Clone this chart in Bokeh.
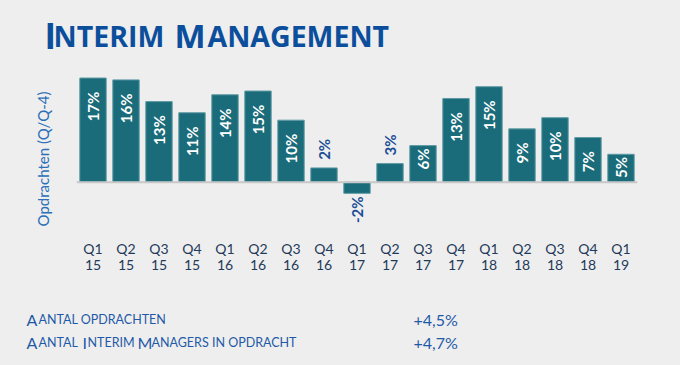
import math
from bokeh.plotting import figure
from bokeh.layouts import column
from bokeh.models import Range1d, FixedTicker, Span, LinearAxis
from bokeh.core.properties import value
from bokeh.embed import file_html
from bokeh.resources import INLINE

# ---- data ----
quarters = ["Q1 15", "Q2 15", "Q3 15", "Q4 15", "Q1 16", "Q2 16", "Q3 16", "Q4 16",
            "Q1 17", "Q2 17", "Q3 17", "Q4 17", "Q1 18", "Q2 18", "Q3 18", "Q4 18", "Q1 19"]
quarter_labels = ["Q1", "Q2", "Q3", "Q4", "Q1", "Q2", "Q3", "Q4",
                  "Q1", "Q2", "Q3", "Q4", "Q1", "Q2", "Q3", "Q4", "Q1"]
year_labels = ["15", "15", "15", "15", "16", "16", "16", "16",
               "17", "17", "17", "17", "18", "18", "18", "18", "19"]
growth = [16.8, 16.5, 13.0, 11.2, 14.1, 14.7, 10.0, 2.3, -1.8, 3.0, 5.9, 13.5, 15.4, 8.6, 10.4, 7.2, 4.5]
growth_labels = ["17%", "16%", "13%", "11%", "14%", "15%", "10%", "2%", "-2%", "3%", "6%",
                 "13%", "15%", "9%", "10%", "7%", "5%"]
summary_values = ["+4,5%", "+4,7%"]

BG = "#eeeeee"
BAR = "#1b6c7a"
DARKBLUE = "#1a4d96"
TEXTBLUE = "#1f5aa8"
TITLE = "#0b4f9c"
W = 680


def text_fig(h):
    f = figure(width=W, height=h, x_range=Range1d(0, W), y_range=Range1d(h, 0),
               output_backend="svg", toolbar_location=None, frame_align=False,
               min_border=0, min_border_left=0, min_border_right=0,
               min_border_top=0, min_border_bottom=0)
    f.axis.visible = False
    f.grid.visible = False
    f.outline_line_color = None
    f.background_fill_color = BG
    f.border_fill_color = BG
    return f


def put(f, txt, x, y, size, color, style="normal", font="Lato"):
    f.text(x=[x], y=[y], text=[txt], text_font=value(font), text_font_size=size,
           text_font_style=style, text_color=color, text_baseline="alphabetic",
           text_align="left")


# ---- title (small caps) ----
top = text_fig(62)
put(top, "I", 44, 35, "35px", TITLE, "bold", "Open Sans")
put(top, "NTERIM", 53, 35, "28.5px", TITLE, "bold", "Open Sans")
put(top, "M", 174, 35, "33px", TITLE, "bold", "Open Sans")
put(top, "ANAGEMENT", 207, 35, "28.5px", TITLE, "bold", "Open Sans")

# ---- chart ----
n = len(quarters)
xpos = [i + 0.5 for i in range(n)]

p = figure(width=W, height=230, x_range=Range1d(0, n), y_range=Range1d(-10.21, 17.69),
           output_backend="svg", toolbar_location=None, frame_align=False,
           min_border_left=76, min_border_right=43, min_border_top=10, min_border_bottom=47)
p.background_fill_color = BG
p.border_fill_color = BG
p.outline_line_color = None
p.grid.visible = False

p.vbar(x=xpos, top=growth, width=0.8, fill_color=BAR, line_color="#5f9ba5", line_width=1)
p.add_layout(Span(location=0, dimension="width", line_color="#c8c8c8", line_width=2))

xs_in, ys_in, t_in = [], [], []
xs_up, ys_up, t_up = [], [], []
xs_dn, ys_dn, t_dn = [], [], []
for x, v, t in zip(xpos, growth, growth_labels):
    if v >= 7:
        xs_in.append(x); ys_in.append(v - 2.2); t_in.append(t)
    elif v >= 4:
        xs_in.append(x); ys_in.append(v - 0.45); t_in.append(t)
    elif v >= 0:
        xs_up.append(x); ys_up.append(v + 1.3); t_up.append(t)
    else:
        xs_dn.append(x); ys_dn.append(v - 0.5); t_dn.append(t)

common = dict(angle=math.pi / 2, text_font=value("Lato"), text_font_size="15px",
              text_font_style="bold", text_baseline="middle")
p.text(x=xs_in, y=ys_in, text=t_in, text_color="white", text_align="right", **common)
p.text(x=xs_up, y=ys_up, text=t_up, text_color=DARKBLUE, text_align="left", **common)
p.text(x=xs_dn, y=ys_dn, text=t_dn, text_color=DARKBLUE, text_align="right", **common)


def style_xaxis(ax, labels, standoff):
    ax.ticker = FixedTicker(ticks=xpos, minor_ticks=[])
    ax.major_label_overrides = {x: lab for x, lab in zip(xpos, labels)}
    ax.axis_line_color = None
    ax.major_tick_line_color = None
    ax.minor_tick_line_color = None
    ax.major_tick_out = 0
    ax.major_tick_in = 0
    ax.minor_tick_out = 0
    ax.major_label_text_font = "Lato"
    ax.major_label_text_font_size = "14px"
    ax.major_label_text_color = "#1f3a5a"
    ax.major_label_standoff = standoff


style_xaxis(p.xaxis[0], quarter_labels, -6)
year_axis = LinearAxis()
p.add_layout(year_axis, "below")
style_xaxis(year_axis, year_labels, 0)

ya = p.yaxis[0]
ya.ticker = FixedTicker(ticks=[], minor_ticks=[])
ya.axis_line_color = None
ya.major_tick_line_color = None
ya.minor_tick_line_color = None
ya.major_tick_out = 0
ya.minor_tick_out = 0
ya.axis_label = "Opdrachten (Q/Q-4)"
ya.axis_label_text_font = "Lato"
ya.axis_label_text_font_style = "normal"
ya.axis_label_text_font_size = "15px"
ya.axis_label_text_color = "#2a6fb8"
ya.axis_label_standoff = 25

# ---- bottom summary (small caps) ----
bot = text_fig(73)
r1, r2 = 27, 49.7
put(bot, "A", 26, r1, "16px", TEXTBLUE)
put(bot, "ANTAL OPDRACHTEN", 38, r1, "12.5px", TEXTBLUE)
put(bot, "A", 26, r2, "16px", TEXTBLUE)
put(bot, "ANTAL", 38, r2, "12.5px", TEXTBLUE)
put(bot, "I", 82, r2, "16px", TEXTBLUE)
put(bot, "NTERIM", 87, r2, "12.5px", TEXTBLUE)
put(bot, "M", 137, r2, "16px", TEXTBLUE)
put(bot, "ANAGERS IN OPDRACHT", 151, r2, "12.5px", TEXTBLUE)
put(bot, summary_values[0], 413, r1, "16px", TEXTBLUE)
put(bot, summary_values[1], 413, r2, "16px", TEXTBLUE)

layout = column(top, p, bot, spacing=0, styles={"background-color": BG})
html = file_html(layout, INLINE)
html = html.replace("</head>", "<style>html, body { background: #eeeeee !important; }</style></head>", 1)
open("out.html", "w").write(html)
